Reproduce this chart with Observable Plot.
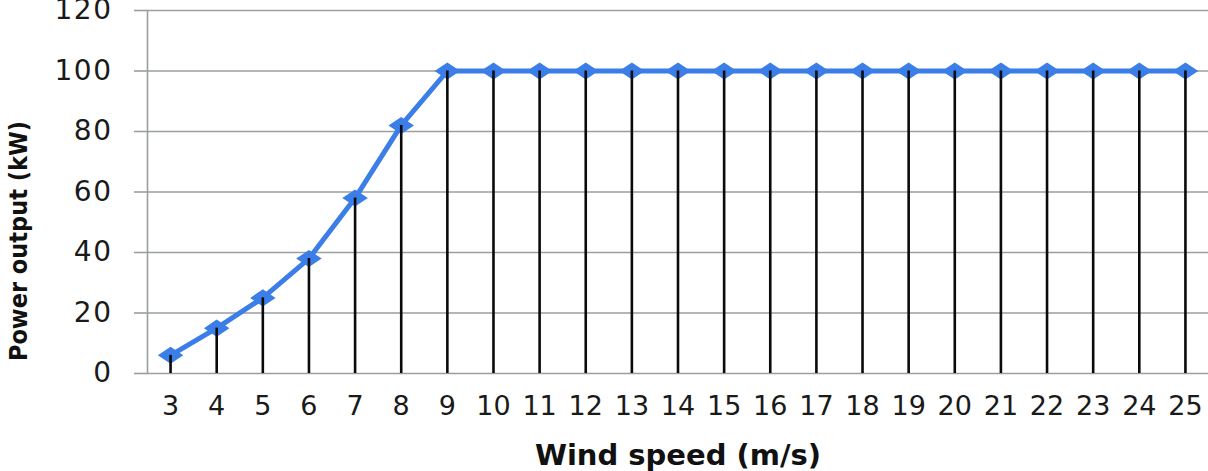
<!DOCTYPE html>
<html>
<head>
<meta charset="utf-8">
<script src="https://cdn.jsdelivr.net/npm/d3@7"></script>
<script src="https://cdn.jsdelivr.net/npm/@observablehq/plot@0.6"></script>
<style>
  html, body { margin: 0; padding: 0; background: #fff; }
  svg { display: block; }
  .ytick text { letter-spacing: 1.5px; }
</style>
</head>
<body>
<div id="chart"></div>
<script>
const windSpeed = [3,4,5,6,7,8,9,10,11,12,13,14,15,16,17,18,19,20,21,22,23,24,25];
const powerOutput = [6,15,25,38,58,82,100,100,100,100,100,100,100,100,100,100,100,100,100,100,100,100,100];
const yTicks = [0,20,40,60,80,100,120];
const xLabel = "Wind speed (m/s)";
const yLabel = "Power output (kW)";

const data = windSpeed.map((w, i) => ({w, p: powerOutput[i]}));
const blue = "#3b7ee8";
const grid = "#9a9e9e";

// wide, flat diamond marker (like the spreadsheet marker)
const wideDiamond = {
  draw(context, size) {
    const h = Math.sqrt(size) * 0.6;
    const w = h * 1.5;
    context.moveTo(-w, 0);
    context.lineTo(0, -h);
    context.lineTo(w, 0);
    context.lineTo(0, h);
    context.closePath();
  }
};

const chart = Plot.plot({
  width: 1208,
  height: 471,
  marginLeft: 147,
  marginRight: 0,
  marginTop: 10,
  marginBottom: 98,
  style: {fontFamily: "DejaVu Sans, Verdana, sans-serif", background: "#fff"},
  x: {domain: [2.5, 25.5], axis: null},
  y: {domain: [0, 120], axis: null},
  marks: [
    Plot.ruleY(yTicks, {stroke: grid, strokeWidth: 1.6, x1: 2.5, x2: 25.5}),
    Plot.axisY({ticks: yTicks, tickSize: 13, tickPadding: 22, stroke: grid, strokeWidth: 1.6, fontSize: 28, fill: "#1a1a1a", label: null, className: "ytick"}),
    Plot.ruleX([2.5], {stroke: grid, strokeWidth: 1.6}),
    Plot.axisX({ticks: windSpeed, tickSize: 0, tickPadding: 22, fontSize: 27, fill: "#1a1a1a", label: null, tickFormat: d => String(d)}),
    Plot.line(data, {x: "w", y: "p", stroke: blue, strokeWidth: 5}),
    Plot.dot(data, {x: "w", y: "p", symbol: wideDiamond, r: 8, fill: blue}),
    Plot.ruleX(data, {x: "w", y1: 0, y2: "p", stroke: "#0a0a0a", strokeWidth: 2.6}),
    Plot.text([xLabel], {frameAnchor: "bottom", dy: 82, text: d => d, fontSize: 29, fontWeight: "bold", fill: "#111", lineAnchor: "middle"}),
    Plot.text([yLabel], {frameAnchor: "left", dx: -129, dy: 49, rotate: -90, textAnchor: "middle", text: d => d, fontSize: 25, fontWeight: "bold", fill: "#111", fontFamily: "Liberation Sans Narrow, DejaVu Sans Condensed, sans-serif", lineAnchor: "middle"})
  ]
});
document.getElementById("chart").appendChild(chart);
</script>
</body>
</html>
